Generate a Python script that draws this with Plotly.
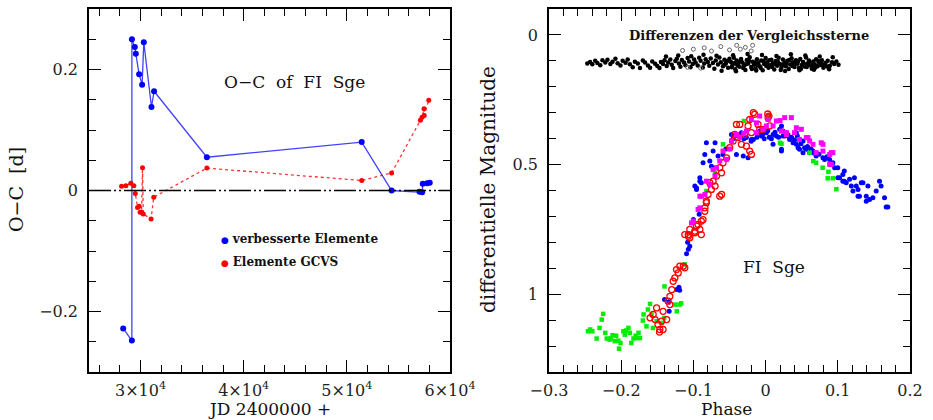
import plotly.graph_objects as go

# ---------------- O-C diagram of FI Sge ----------------
# improved elements (blue)
oc_new_jd = [28314, 29155, 29160, 29444, 29540, 29860, 30150, 30313, 31057, 31308,
             36428, 51440, 54340, 57045, 57300, 57360, 57777, 58037]
oc_new_val = [-0.228, -0.248, 0.250, 0.237, 0.226, 0.192, 0.175, 0.245, 0.138, 0.164,
              0.055, 0.080, 0.000, -0.002, -0.003, 0.011, 0.012, 0.013]

# GCVS elements (red)
oc_gcvs_jd = [28158, 28574, 29057, 29347, 29490, 29705, 29860, 29956, 30091, 30188,
              30265, 31018, 31279, 36428, 51440, 54340, 57130, 57290, 57480, 57500, 57940]
oc_gcvs_val = [0.007, 0.008, 0.012, 0.008, -0.005, -0.028, -0.026, -0.036, -0.036, 0.0375,
               -0.039, -0.047, -0.011, 0.037, 0.0165, 0.029, 0.116, 0.121, 0.135, 0.124, 0.149]

jd_tickvals = [30000, 40000, 50000, 60000]
jd_ticktext = ["3×10<sup>4</sup>", "4×10<sup>4</sup>", "5×10<sup>4</sup>", "6×10<sup>4</sup>"]

# ---------------- light curve (phase, differential magnitude) ----------------
blue_phase = [-0.140, -0.1336, -0.134, -0.123, -0.120, -0.119, -0.1095, -0.107, -0.105, -0.108,
              -0.100, -0.092, -0.098, -0.0957, -0.0911,
              -0.0957, -0.0911, -0.089, -0.0866, -0.0842, -0.082, -0.0773, -0.075, -0.0727, -0.070,
              -0.0658, -0.059, -0.055, -0.0473, -0.045, -0.0404, -0.0335, -0.031, -0.0266, -0.0243,
              -0.020, -0.0197, -0.017, -0.012, -0.0082, -0.0058, -0.002, 0.0011, 0.005, 0.0103,
              0.0103, 0.015, 0.0195, 0.0219, 0.022, 0.024, 0.0241, 0.0288, 0.0333, 0.0333,
              0.038, 0.0426, 0.0426, 0.045, 0.047, 0.0518, 0.0518, 0.054, 0.0564, 0.061,
              0.0656, 0.070, 0.0794, 0.0817, 0.0886, 0.0932, 0.0956, 0.100, 0.100, 0.1025,
              0.107, 0.107, 0.109, 0.109, 0.1117, 0.1163, 0.1187, 0.121, 0.123, 0.1256,
              0.128, 0.128, 0.130, 0.1325, 0.1348, 0.1394, 0.1394, 0.1417, 0.144, 0.1486,
              0.1532, 0.1578, 0.160, 0.1647, 0.167, 0.1693,
              -0.038, -0.030, -0.010, 0.008, 0.013, 0.018, 0.027, 0.031, 0.036, 0.040,
              0.044, 0.049, -0.004, 0.003, 0.058, 0.063, 0.067, 0.074, 0.085, 0.090, 0.022]
blue_mag = [1.020, 1.066, 1.030, 0.982, 0.973, 0.985, 0.844, 0.827, 0.815, 0.800,
            0.712, 0.692, 0.583, 0.596, 0.551,
            0.590, 0.564, 0.570, 0.493, 0.461, 0.416, 0.486, 0.506, 0.448, 0.416,
            0.467, 0.461, 0.440, 0.384, 0.400, 0.461, 0.377, 0.467, 0.396, 0.474,
            0.410, 0.403, 0.403, 0.395, 0.371, 0.390, 0.400, 0.377, 0.395, 0.384,
            0.422, 0.390, 0.364, 0.448, 0.351, 0.371, 0.390, 0.377, 0.403, 0.396,
            0.416, 0.422, 0.377, 0.435, 0.441, 0.409, 0.454, 0.435, 0.441, 0.454,
            0.448, 0.467, 0.474, 0.480, 0.480, 0.493, 0.512, 0.512, 0.551, 0.551,
            0.538, 0.564, 0.525, 0.564, 0.570, 0.557, 0.583, 0.602, 0.551, 0.583,
            0.596, 0.622, 0.622, 0.570, 0.570, 0.641, 0.622, 0.583, 0.635, 0.628,
            0.602, 0.564, 0.583, 0.628, 0.664, 0.664,
            0.390, 0.400, 0.380, 0.400, 0.375, 0.395, 0.390, 0.385, 0.395, 0.405,
            0.390, 0.420, 0.385, 0.370, 0.430, 0.440, 0.455, 0.460, 0.470, 0.500, 0.441]

green_phase = [-0.246, -0.243, -0.240, -0.234, -0.230, -0.227, -0.225, -0.222, -0.220, -0.216,
               -0.214, -0.212, -0.209, -0.207, -0.204, -0.203, -0.201, -0.197, -0.195, -0.193,
               -0.190, -0.188, -0.186, -0.183, -0.180, -0.178, -0.176, -0.174, -0.170, -0.169,
               -0.165, -0.163, -0.160, -0.158, -0.156, -0.151, -0.144, -0.1405, -0.123, -0.119,
               -0.117, -0.140, -0.112, -0.125,
               -0.082, -0.070, -0.059, -0.030, 0.003, 0.020, 0.022, 0.061, 0.066, 0.070,
               0.079, 0.087, 0.086, 0.093, 0.098]
green_mag = [1.143, 1.136, 1.143, 1.171, 1.130, 1.098, 1.076, 1.149, 1.171, 1.175,
             1.170, 1.158, 1.181, 1.160, 1.179, 1.210, 1.188, 1.143, 1.156, 1.140,
             1.130, 1.149, 1.188, 1.171, 1.160, 1.169, 1.149, 1.169, 1.1015, 1.078,
             1.124, 1.059, 1.0375, 1.078, 1.130, 1.104, 1.111, 1.0915, 1.066, 1.040,
             1.035, 0.970, 0.885, 1.040,
             0.602, 0.532, 0.422, 0.332, 0.313, 0.416, 0.420, 0.454, 0.487, 0.493,
             0.512, 0.528, 0.553, 0.553, 0.595]

red_phase = [-0.160, -0.1557, -0.153, -0.151, -0.149, -0.147, -0.1465, -0.144, -0.142, -0.142,
             -0.137, -0.135, -0.1326, -0.1326, -0.130, -0.128, -0.1257, -0.1234, -0.121, -0.1188,
             -0.114, -0.1119, -0.1119, -0.107, -0.107, -0.105, -0.105, -0.098, -0.098, -0.0957,
             -0.0935, -0.091, -0.089, -0.089, -0.0866, -0.0842, -0.084, -0.082, -0.082,
             -0.0797, -0.075, -0.0773, -0.0727, -0.070, -0.068, -0.0635, -0.0635, -0.061, -0.061,
             -0.059, -0.054, -0.0497, -0.045, -0.0427, -0.0404, -0.038, -0.0358, -0.0335, -0.029,
             -0.0266, -0.0243, -0.022, -0.022, -0.0197, -0.0197, -0.0151, -0.0105, -0.0082, -0.0036,
             0.0034, 0.0046, 0.0057, -0.017, 0.003]
red_mag = [1.091, 1.078, 1.098, 1.053, 1.117, 1.146, 1.136, 1.104, 1.066, 1.136,
           1.098, 1.027, 1.008, 1.040, 0.982, 0.950, 0.937, 0.905, 0.918, 0.892,
           0.892, 0.898, 0.770, 0.776, 0.770, 0.750, 0.782, 0.763, 0.757, 0.737,
           0.731, 0.750, 0.718, 0.770, 0.712, 0.680, 0.667, 0.647, 0.641,
           0.615, 0.596, 0.570, 0.564, 0.583, 0.544, 0.512, 0.622, 0.532, 0.615,
           0.493, 0.474, 0.435, 0.409, 0.384, 0.345, 0.396, 0.345, 0.422, 0.384,
           0.429, 0.351, 0.326, 0.448, 0.377, 0.461, 0.306, 0.345, 0.364, 0.364,
           0.319, 0.313, 0.351, 0.300, 0.305]

magenta_phase = [-0.1026, -0.1000, -0.0935, -0.091, -0.091, -0.0888, -0.084, -0.082, -0.0773, -0.0727,
                 -0.070, -0.068, -0.0635, -0.059, -0.054, -0.0497, -0.0473, -0.0404, -0.036, -0.030,
                 -0.0266, -0.0197, -0.0127, -0.0127, -0.0082, -0.0036, 0.0011, 0.0034, 0.0103, 0.0149,
                 0.020, 0.0219, 0.0264, 0.0288, 0.0288, 0.0357, 0.040, 0.0426, 0.047, 0.0495,
                 0.0564, 0.0587, 0.061, 0.0656, 0.070, 0.0771, 0.0794, 0.0794, 0.0887, 0.0887,
                 0.091, 0.0932, 0.091]
magenta_mag = [0.725, 0.718, 0.673, 0.667, 0.622, 0.622, 0.615, 0.564, 0.577, 0.519,
               0.544, 0.512, 0.486, 0.448, 0.480, 0.440, 0.409, 0.384, 0.395, 0.380,
               0.371, 0.326, 0.339, 0.377, 0.313, 0.364, 0.351, 0.326, 0.351, 0.332,
               0.330, 0.371, 0.319, 0.377, 0.384, 0.319, 0.377, 0.358, 0.403, 0.364,
               0.396, 0.396, 0.409, 0.422, 0.454, 0.416, 0.448, 0.422, 0.461, 0.499,
               0.454, 0.454, 0.499]

# differences of the comparison stars
comp_phase = [-0.247, -0.243, -0.240, -0.236, -0.233, -0.229, -0.226, -0.222, -0.219, -0.215,
              -0.212, -0.208, -0.205, -0.201, -0.198, -0.194, -0.191, -0.188, -0.184, -0.181,
              -0.177, -0.174, -0.170, -0.167, -0.163, -0.160, -0.157, -0.153, -0.150, -0.147,
              -0.145, -0.142, -0.140, -0.137, -0.135, -0.132, -0.130, -0.128, -0.125, -0.123,
              -0.120, -0.118, -0.116, -0.113, -0.111, -0.108, -0.106, -0.104, -0.101, -0.099,
              -0.097, -0.094, -0.092, -0.090, -0.087, -0.085, -0.083, -0.080, -0.078, -0.076,
              -0.073, -0.071, -0.069, -0.066, -0.064, -0.062, -0.059, -0.057, -0.055, -0.052,
              -0.050, -0.048, -0.046, -0.044, -0.042, -0.040, -0.038, -0.036, -0.034, -0.032,
              -0.030, -0.028, -0.026, -0.024, -0.022, -0.020, -0.018, -0.016, -0.014, -0.012,
              -0.010, -0.008, -0.006, -0.004, -0.002, 0.000, 0.002, 0.004, 0.006, 0.008,
              0.010, 0.012, 0.014, 0.016, 0.018, 0.020, 0.022, 0.024, 0.026, 0.028,
              0.030, 0.032, 0.034, 0.036, 0.038, 0.040, 0.042, 0.044, 0.046, 0.048,
              0.050, 0.052, 0.054, 0.056, 0.058, 0.060, 0.062, 0.064, 0.066, 0.068,
              0.070, 0.072, 0.074, 0.076, 0.078, 0.080, 0.083, 0.086, 0.089, 0.092,
              0.095, 0.098, 0.101,
              -0.057, -0.053, -0.047, -0.043, -0.039, -0.035, -0.031, -0.027, -0.023, -0.019,
              -0.015, -0.011, -0.007, -0.003, 0.001, 0.005, 0.009, 0.013, 0.017, 0.021,
              0.025, 0.029, 0.033, 0.037, 0.041, 0.045, 0.049, 0.053, 0.057, 0.061,
              0.065, 0.069, 0.073, 0.077, 0.081, 0.085,
              -0.138, -0.121, -0.103, -0.086, -0.068, -0.045, -0.025, -0.005, 0.015, 0.035,
              0.055, 0.075, 0.093, -0.061, -0.041, -0.013, 0.027, 0.047, 0.067, 0.088]
comp_mag = [0.110, 0.104, 0.113, 0.100, 0.108, 0.117, 0.098, 0.106, 0.096, 0.112,
            0.103, 0.092, 0.109, 0.118, 0.100, 0.107, 0.095, 0.113, 0.125, 0.103,
            0.110, 0.128, 0.099, 0.106, 0.118, 0.127, 0.102, 0.111, 0.120, 0.128,
            0.104, 0.112, 0.098, 0.120, 0.106, 0.095, 0.115, 0.128, 0.101, 0.092,
            0.110, 0.123, 0.097, 0.106, 0.117, 0.089, 0.102, 0.125, 0.112, 0.095,
            0.106, 0.118, 0.088, 0.100, 0.126, 0.110, 0.094, 0.104, 0.119, 0.091,
            0.108, 0.130, 0.099, 0.114, 0.087, 0.105, 0.121, 0.096, 0.110, 0.127,
            0.092, 0.104, 0.117, 0.088, 0.132, 0.099, 0.112, 0.123, 0.093, 0.106,
            0.119, 0.135, 0.097, 0.110, 0.086, 0.124, 0.103, 0.115, 0.130, 0.094,
            0.108, 0.121, 0.099, 0.136, 0.112, 0.089, 0.105, 0.127, 0.117, 0.096,
            0.109, 0.133, 0.101, 0.119, 0.088, 0.112, 0.126, 0.095, 0.107, 0.121,
            0.100, 0.131, 0.114, 0.090, 0.105, 0.124, 0.098, 0.111, 0.128, 0.093,
            0.116, 0.104, 0.122, 0.087, 0.110, 0.099, 0.118, 0.130, 0.102, 0.113,
            0.094, 0.121, 0.106, 0.116, 0.098, 0.127, 0.108, 0.100, 0.119, 0.105,
            0.112, 0.102, 0.115,
            0.115, 0.101, 0.125, 0.108, 0.118, 0.102, 0.128, 0.113, 0.100, 0.131,
            0.106, 0.117, 0.127, 0.101, 0.120, 0.098, 0.124, 0.113, 0.103, 0.135,
            0.115, 0.108, 0.097, 0.120, 0.110, 0.102, 0.130, 0.112, 0.124, 0.107,
            0.117, 0.126, 0.101, 0.110, 0.115, 0.122,
            0.083, 0.079, 0.082, 0.076, 0.080, 0.078, 0.074, 0.077, 0.081, 0.075,
            0.079, 0.083, 0.086, 0.138, 0.140, 0.137, 0.139, 0.136, 0.134, 0.132]

comp_open_phase = [-0.115, -0.100, -0.085, -0.075, -0.062, -0.050, -0.040, -0.035, -0.028, -0.020,
                   -0.018, -0.108, -0.090]
comp_open_mag = [0.060, 0.055, 0.050, 0.062, 0.045, 0.058, 0.040, 0.055, 0.048, 0.062,
                 0.040, 0.125, 0.128]

# ---------------- figure ----------------
W, H = 933, 420
FONT = "DejaVu Serif"
NB = "\u00a0"

fig = go.Figure()

# left panel
fig.add_trace(go.Scatter(x=oc_new_jd, y=oc_new_val, mode="lines+markers",
                         line=dict(color="rgba(0,0,255,0.75)", width=1.3),
                         marker=dict(color="#0000ff", size=6), xaxis="x", yaxis="y",
                         showlegend=False))
fig.add_trace(go.Scatter(x=oc_gcvs_jd, y=oc_gcvs_val, mode="lines+markers",
                         line=dict(color="rgba(255,0,0,0.8)", width=1.3, dash="dot"),
                         marker=dict(color="#ff0000", size=5), xaxis="x", yaxis="y",
                         showlegend=False))

# right panel
fig.add_trace(go.Scatter(x=comp_phase, y=comp_mag, mode="markers",
                         marker=dict(color="#000000", size=4.5), xaxis="x2", yaxis="y2",
                         showlegend=False))
fig.add_trace(go.Scatter(x=comp_open_phase, y=comp_open_mag, mode="markers",
                         marker=dict(color="#666666", size=4, symbol="circle-open",
                                     line=dict(width=1)),
                         xaxis="x2", yaxis="y2", showlegend=False))
fig.add_trace(go.Scatter(x=blue_phase, y=blue_mag, mode="markers",
                         marker=dict(color="#0000ff", size=5), xaxis="x2", yaxis="y2",
                         showlegend=False))
fig.add_trace(go.Scatter(x=green_phase, y=green_mag, mode="markers",
                         marker=dict(color="#00ee00", size=4.5, symbol="square"),
                         xaxis="x2", yaxis="y2", showlegend=False))
fig.add_trace(go.Scatter(x=red_phase, y=red_mag, mode="markers",
                         marker=dict(color="#ff0000", size=6, symbol="circle-open",
                                     line=dict(width=1.3)),
                         xaxis="x2", yaxis="y2", showlegend=False))
fig.add_trace(go.Scatter(x=magenta_phase, y=magenta_mag, mode="markers",
                         marker=dict(color="#ff00ff", size=5, symbol="square"),
                         xaxis="x2", yaxis="y2", showlegend=False))

# empty traces that register the mirrored (top/right) tick axes
fig.add_trace(go.Scatter(x=[None], y=[None], xaxis="x3", yaxis="y3", showlegend=False,
                         hoverinfo="skip"))
fig.add_trace(go.Scatter(x=[None], y=[None], xaxis="x4", yaxis="y4", showlegend=False,
                         hoverinfo="skip"))


def px_x(p):
    return p / W


def px_y(p):
    return 1 - p / H


def minor(d):
    return dict(ticks="inside", ticklen=7, tickwidth=1.2, dtick=d, tickcolor="black")


base = dict(
    showgrid=False, zeroline=False, showline=True, linecolor="black", linewidth=1.6,
    mirror=True, ticks="inside", ticklen=12, tickwidth=1.4, tickcolor="black",
    automargin=False, ticklabelstandoff=6,
    tickfont=dict(family=FONT, size=16, color="#222"),
)
mirror_ax = dict(base, showline=False, showticklabels=False)

xL = dict(domain=[px_x(89), px_x(450)], range=[25000, 60000])
yL = dict(domain=[px_y(372), px_y(9)], range=[-0.3, 0.3])
xR = dict(domain=[px_x(549), px_x(910)], range=[-0.3, 0.2])
yR = dict(domain=[px_y(372), px_y(9)], range=[1.3, -0.1])

fig.update_layout(
    width=W, height=H, margin=dict(l=0, r=0, t=0, b=0),
    paper_bgcolor="white", plot_bgcolor="white",
    font=dict(family=FONT, color="#111"),
    xaxis=dict(base, **xL, tickvals=jd_tickvals, ticktext=jd_ticktext, anchor="y",
               ticklabelstandoff=3, minor=dict(minor(2000), tick0=0)),
    yaxis=dict(base, **yL, dtick=0.2, tick0=0, anchor="x", minor=minor(0.05)),
    xaxis2=dict(base, **xR, dtick=0.1, tick0=0, anchor="y2", ticklabelstandoff=3,
                minor=minor(0.02)),
    yaxis2=dict(base, **yR, dtick=0.5, tick0=0, anchor="x2", minor=minor(0.1)),
    # top / right tick marks, drawn on overlaying axes
    xaxis3=dict(mirror_ax, **xL, tickvals=jd_tickvals, side="top", anchor="y3",
                overlaying="x", minor=dict(minor(2000), tick0=0)),
    yaxis3=dict(mirror_ax, **yL, dtick=0.2, tick0=0, side="right", anchor="x3",
                overlaying="y", minor=minor(0.05)),
    xaxis4=dict(mirror_ax, **xR, dtick=0.1, tick0=0, side="top", anchor="y4",
                overlaying="x2", minor=minor(0.02)),
    yaxis4=dict(mirror_ax, **yR, dtick=0.5, tick0=0, side="right", anchor="x4",
                overlaying="y2", minor=minor(0.1)),
)

# zero line of the O-C diagram
fig.add_shape(type="line", xref="x domain", yref="y", x0=0, x1=1, y0=0, y1=0,
              line=dict(color="black", width=1.4, dash="22px,3px,2px,3px,2px,3px"))

ann = [
    dict(text=f"O−C{NB} of{NB} FI{NB} Sge", x=px_x(294), y=px_y(82), size=17),
    dict(text=f"FI{NB} Sge", x=px_x(774), y=px_y(267), size=17),
    dict(text="<b>Differenzen der Vergleichssterne</b>", x=px_x(749), y=px_y(35), size=13),
    dict(text="JD 2400000 +", x=px_x(269), y=px_y(409), size=17),
    dict(text="Phase", x=px_x(726), y=px_y(409), size=17),
    dict(text=f"O−C{NB} [d]", x=px_x(16), y=px_y(190), size=19, angle=-90),
    dict(text="differentielle Magnitude", x=px_x(488), y=px_y(190), size=20, angle=-90),
]
for a in ann:
    fig.add_annotation(text=a["text"], x=a["x"], y=a["y"], xref="paper", yref="paper",
                       showarrow=False, textangle=a.get("angle", 0),
                       font=dict(family=FONT, size=a["size"], color="#111"),
                       xanchor="center", yanchor="middle")

# legend entries of the O-C diagram
legend_items = [("verbesserte Elemente", "#0000ff", 239), ("Elemente GCVS", "#ff0000", 262)]
for label, col, ypx in legend_items:
    fig.add_annotation(text=f"<span style='color:{col};font-size:9px'>●</span> <b>{label}</b>",
                       x=px_x(219), y=px_y(ypx), xref="paper", yref="paper",
                       showarrow=False, xanchor="left", yanchor="middle",
                       font=dict(family=FONT, size=12, color="#111"))

fig.write_html("out.html")
